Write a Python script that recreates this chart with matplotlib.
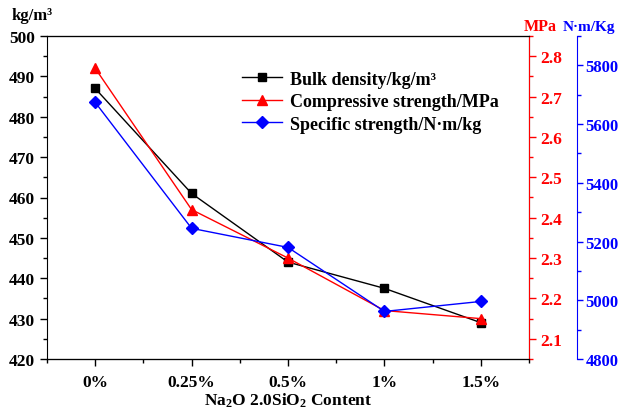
import matplotlib
matplotlib.use('Agg')
import matplotlib.pyplot as plt
from matplotlib.ticker import MultipleLocator

plt.rcParams['font.family'] = 'Liberation Serif'
plt.rcParams['font.weight'] = 'bold'
plt.rcParams['mathtext.fontset'] = 'custom'
plt.rcParams['mathtext.rm'] = 'Liberation Serif:bold'
plt.rcParams['mathtext.bf'] = 'Liberation Serif:bold'
plt.rcParams['mathtext.it'] = 'Liberation Serif:bold'

# Data
categories = ['0%', '0.25%', '0.5%', '1%', '1.5%']
bulk_density = [487, 461, 444, 437.5, 429]          # kg/m3
compressive = [2.77, 2.42, 2.30, 2.17, 2.15]       # MPa
specific = [5674, 5245, 5180, 4962, 4996]          # N·m/kg

x = list(range(len(categories)))

fig = plt.figure(figsize=(6.19, 4.10), dpi=100)
ax = fig.add_axes([47 / 619, 1 - 360 / 410, (529 - 47) / 619, (360 - 37) / 410])
ax2 = ax.twinx()
ax3 = ax.twinx()
ax3.spines['right'].set_position(('axes', 1 + 48 / 482))

l1, = ax.plot(x, bulk_density, color='black', marker='s', markersize=6, lw=1,
              label='Bulk density/kg/m³')
l2, = ax2.plot(x, compressive, color='red', marker='^', markersize=7.5, lw=1,
               label='Compressive strength/MPa')
l3, = ax3.plot(x, specific, color='blue', marker='D', markersize=6.5, lw=1,
               label='Specific strength/N·m/kg')

# left axis
ax.set_xlim(-0.5, 4.5)
ax.set_ylim(420, 500)
ax.yaxis.set_major_locator(MultipleLocator(10))
ax.yaxis.set_minor_locator(MultipleLocator(5))
ax.set_xticks(x)
ax.set_xticklabels(categories)
ax.xaxis.set_minor_locator(MultipleLocator(0.5))
ax.tick_params(axis='both', which='major', direction='out', length=5, width=1, labelsize=12.5)
ax.tick_params(axis='both', which='minor', direction='out', length=3, width=1)
ax.tick_params(axis='x', which='major', pad=6)
ax.set_xlabel(r'Na$_\mathbf{2}$O 2.0SiO$_\mathbf{2}$ Content', fontsize=12.5, fontweight='bold', labelpad=0)
for lab in ax.get_xticklabels() + ax.get_yticklabels():
    lab.set_fontweight('bold')

# red axis
ax2.set_ylim(2.05, 2.85)
ax2.yaxis.set_major_locator(MultipleLocator(0.1))
ax2.yaxis.set_minor_locator(MultipleLocator(0.05))
ax2.spines['right'].set_color('red')
ax2.tick_params(axis='y', which='major', colors='red', length=5, width=1, labelsize=12.5, pad=3)
ax2.tick_params(axis='y', which='minor', colors='red', length=3, width=1)
for lab in ax2.get_yticklabels():
    lab.set_fontweight('bold')

# blue axis
ax3.set_ylim(4800, 5900)
ax3.yaxis.set_major_locator(MultipleLocator(200))
ax3.yaxis.set_minor_locator(MultipleLocator(100))
ax3.spines['right'].set_color('blue')
ax3.tick_params(axis='y', which='major', colors='blue', length=4, width=1, labelsize=12, pad=2)
ax3.tick_params(axis='y', which='minor', colors='blue', length=3, width=1)
for lab in ax3.get_yticklabels():
    lab.set_fontweight('bold')
for a in (ax2, ax3):
    a.spines['left'].set_visible(False)

# unit labels
fig.text(12 / 619, 1 - 16 / 410, 'kg/m³', fontsize=12, fontweight='bold', ha='left', va='center')
fig.text(540 / 619, 1 - 27 / 410, 'MPa', fontsize=11.5, fontweight='bold', color='red', ha='center', va='center')
fig.text(589 / 619, 1 - 27 / 410, 'N·m/Kg', fontsize=11, fontweight='bold', color='blue', ha='center', va='center')

leg = ax.legend(handles=[l1, l2, l3], loc='upper left', bbox_to_anchor=(0.39, 0.915),
                frameon=False, fontsize=13, handlelength=2.2, handletextpad=0.45,
                labelspacing=0.3, borderaxespad=0)
for t in leg.get_texts():
    t.set_fontweight('bold')

fig.savefig('out.png', dpi=100)
